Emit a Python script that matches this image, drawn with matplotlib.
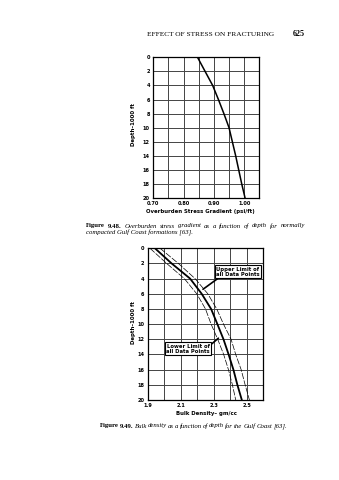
import matplotlib.pyplot as plt

# Fig 9.48 - overburden stress gradient vs depth
depth_a = [0, 2, 4, 6, 8, 10, 12, 14, 16, 18, 20]
overburden_grad = [0.846, 0.871, 0.896, 0.915, 0.933, 0.950, 0.961, 0.972, 0.982, 0.992, 1.003]

# Fig 9.49 - bulk density vs depth (mean curve and data envelope)
depth_b = [0, 2, 4, 6, 8, 10, 12, 14, 16, 18, 20]
density_mid = [1.944, 2.045, 2.157, 2.227, 2.284, 2.322, 2.359, 2.390, 2.419, 2.443, 2.470]
density_upper = [1.975, 2.086, 2.187, 2.264, 2.318, 2.359, 2.405, 2.433, 2.466, 2.490, 2.516]
density_lower = [1.914, 2.015, 2.122, 2.197, 2.250, 2.284, 2.324, 2.360, 2.389, 2.413, 2.433]

grad_grid = [0.70, 0.75, 0.80, 0.85, 0.90, 0.95, 1.00, 1.05]
grad_labels = ['0.70', '', '0.80', '', '0.90', '', '1.00', '']
dens_grid = [1.9, 2.0, 2.1, 2.2, 2.3, 2.4, 2.5, 2.6]
dens_labels = ['1.9', '', '2.1', '', '2.3', '', '2.5', '']
depth_ticks = list(range(0, 21, 2))

W, H = 339, 480
fig = plt.figure(figsize=(W / 100, H / 100), dpi=100)
serif = 'Liberation Serif'
sans = 'DejaVu Sans'


def fx(px):
    return px / W


def fy(py):
    return 1 - py / H


def style_axes(ax, xgrid, xlabels):
    ax.set_ylim(20, 0)
    ax.set_xlim(xgrid[0], xgrid[-1])
    ax.set_xticks(xgrid)
    ax.set_xticklabels(xlabels)
    ax.set_yticks(depth_ticks)
    ax.tick_params(length=0, pad=2.5, labelsize=3.6)
    for lab in ax.get_xticklabels() + ax.get_yticklabels():
        lab.set_fontweight('bold')
    ax.grid(True, color='#444444', lw=0.7)
    for s in ax.spines.values():
        s.set_linewidth(0.9)


# header line
fig.text(fx(211), fy(34), 'EFFECT OF STRESS ON FRACTURING', family=serif,
         fontsize=5.3, ha='center', va='center')
fig.text(fx(299), fy(34), '625', family=serif, fontsize=5.8,
         fontweight='bold', ha='center', va='center')

# upper chart
ax1 = fig.add_axes([fx(153.3), fy(198), fx(259.3) - fx(153.3), fy(57.3) - fy(198)])
style_axes(ax1, grad_grid, grad_labels)
ax1.plot(overburden_grad, depth_a, color='black', lw=1.1)
fig.text(fx(133), fy(124), 'Depth\u20131000 ft', rotation=90, fontsize=3.9,
         fontweight='bold', ha='center', va='center', family=sans)
fig.text(fx(200), fy(211), 'Overburden Stress Gradient (psi/ft)', fontsize=3.9,
         fontweight='bold', ha='center', va='center', family=sans)

# lower chart
ax2 = fig.add_axes([fx(147.7), fy(400), fx(263.3) - fx(147.7), fy(248.3) - fy(400)])
style_axes(ax2, dens_grid, dens_labels)
ax2.plot(density_mid, depth_b, color='black', lw=1.3)
ax2.plot(density_upper, depth_b, color='black', lw=0.5, ls=(0, (9, 2)))
ax2.plot(density_lower, depth_b, color='black', lw=0.5, ls=(0, (9, 2)))
fig.text(fx(133), fy(322), 'Depth\u20131000 ft', rotation=90, fontsize=3.9,
         fontweight='bold', ha='center', va='center', family=sans)
fig.text(fx(206), fy(413), 'Bulk Density\u2013 gm/cc', fontsize=3.9,
         fontweight='bold', ha='center', va='center', family=sans)

box = dict(boxstyle='square,pad=0.25', fc='white', ec='black', lw=0.8)
ax2.annotate('Upper Limit of\nall Data Points', xy=(2.235, 5.4),
             xytext=(fx(238), fy(271.5)), textcoords='figure fraction',
             fontsize=3.8, fontweight='bold', ha='center', va='center',
             linespacing=1.0, bbox=box, family=sans,
             arrowprops=dict(arrowstyle='-', lw=1.2, color='black',
                             shrinkA=0, shrinkB=0, relpos=(0.1, 0.0)))
ax2.annotate('Lower Limit of\nall Data Points', xy=(2.328, 11.85),
             xytext=(fx(188.3), fy(348.8)), textcoords='figure fraction',
             fontsize=3.8, fontweight='bold', ha='center', va='center',
             linespacing=1.0, bbox=box, family=sans,
             arrowprops=dict(arrowstyle='-', lw=1.2, color='black',
                             shrinkA=0, shrinkB=0, relpos=(1.0, 0.85)))

# captions, word by word so the lines can be spread to a set width
renderer = fig.canvas.get_renderer()


def place_words(words, x0, x1, y, size):
    items = []
    for text, weight, style in words:
        t = fig.text(0, fy(y), text, family=serif, fontsize=size,
                     fontweight=weight, fontstyle=style, va='center')
        items.append(t)
    widths = [t.get_window_extent(renderer).width for t in items]
    gap = (x1 - x0 - sum(widths)) / (len(items) - 1)
    x = x0
    for t, w in zip(items, widths):
        t.set_x(fx(x))
        x += w + gap


cap1 = [('Figure', 'bold', 'normal'), ('9.48.', 'bold', 'normal')] + \
    [(w, 'normal', 'italic') for w in
     'Overburden stress gradient as a function of depth for normally'.split()]
place_words(cap1, 86, 305, 226, 4.9)
fig.text(fx(86), fy(233), 'compacted Gulf Coast formations [63].', family=serif,
         fontsize=4.9, fontstyle='italic', va='center')

cap2 = [('Figure', 'bold', 'normal'), ('9.49.', 'bold', 'normal')] + \
    [(w, 'normal', 'italic') for w in
     'Bulk density as a function of depth for the Gulf Coast [63].'.split()]
place_words(cap2, 100, 287, 426, 4.9)

fig.savefig('out.png', dpi=100)
